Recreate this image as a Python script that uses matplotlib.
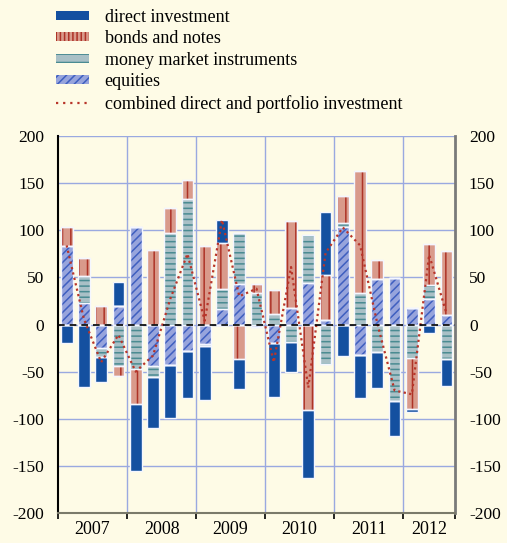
import numpy as np
from matplotlib import pyplot as plt
from matplotlib.lines import Line2D
from matplotlib.patches import Patch

# quarters 2007 Q1 .. 2012 Q3
years = ["2007", "2008", "2009", "2010", "2011", "2012"]
quarters_per_year = [4, 4, 4, 4, 4, 3]

# positive / negative parts of each component (EUR bn)
equities_pos = [83, 23, 0, 20, 103, 0, 0, 0, 0, 17, 43, 0,
                0, 18, 44, 5, 104, 0, 48, 49, 18, 27, 10]
equities_neg = [0, 0, -25, 0, 0, -44, -43, -28, -21, 0, 0, -3,
                -20, 0, 0, 0, 0, -32, 0, 0, 0, 0, 0]
money_pos = [0, 28, 0, 0, 0, 0, 97, 133, 0, 21, 54, 33,
             11, 0, 51, 0, 4, 33, 0, 0, 0, 15, 0]
money_neg = [0, 0, -9, -44, -47, -12, 0, 0, -2, 0, 0, 0,
             0, -19, 0, -42, 0, 0, -29, -81, -36, 0, -37]
bonds_pos = [20, 20, 20, 0, 0, 79, 27, 20, 83, 49, 0, 10,
             26, 92, 0, 48, 28, 130, 20, 0, 0, 43, 68]
bonds_neg = [0, 0, 0, -11, -37, 0, 0, 0, 0, 0, -37, 0,
             0, 0, -91, 0, 0, 0, 0, 0, -54, 0, 0]
direct_pos = [0, 0, 0, 25, 0, 0, 0, 0, 0, 24, 0, 0,
              0, 0, 0, 66, 0, 0, 0, 0, 0, 0, 0]
direct_neg = [-20, -66, -27, 0, -71, -54, -56, -50, -57, 0, -31, 0,
              -57, -31, -72, 0, -33, -46, -38, -37, -3, -9, -28]
combined = [84, 6, -40, -11, -50, -33, 27, 75, 4, 111, 30, 38,
            -40, 61, -67, 76, 103, 84, 1, -70, -74, 74, 12]

BG = "#fefbe6"
GRID = "#9aa9e0"

plt.rcParams["font.family"] = ["Liberation Serif", "DejaVu Serif"]
plt.rcParams["hatch.linewidth"] = 1.1

fig = plt.figure(figsize=(5.07, 5.43), dpi=100, facecolor=BG)
ax = fig.add_axes([0.1144, 0.0552, 0.7831, 0.6943], facecolor=BG)

x = np.arange(len(combined))
w = 0.68

# (name, pos, neg, face, hatch colour, hatch)
series = [
    ("equities", equities_pos, equities_neg, "#97a4dc", "#3f5fc0", "////"),
    ("money market instruments", money_pos, money_neg, "#a9c0c6", "#4a8b92", "---"),
    ("bonds and notes", bonds_pos, bonds_neg, "#d99a8b", "#ad3327", "||"),
    ("direct investment", direct_pos, direct_neg, "#1450a0", "#1450a0", None),
]

bottom_pos = np.zeros(len(x))
bottom_neg = np.zeros(len(x))
for name, pos, neg, face, hcol, hatch in series:
    pos = np.array(pos, dtype=float)
    neg = np.array(neg, dtype=float)
    for vals, bot in ((pos, bottom_pos), (neg, bottom_neg)):
        ax.bar(x, vals, w, bottom=bot, color=face, edgecolor=hcol,
               hatch=hatch, linewidth=0, zorder=3)
        ax.bar(x, vals, w, bottom=bot, color="none", edgecolor="#f4f6ff",
               linewidth=1.0, zorder=4)
    bottom_pos += pos
    bottom_neg += neg

ax.plot(x, combined, color="#b8352a", linestyle=(0, (1, 1.5)),
        linewidth=1.6, zorder=5)

ax.axhline(0, color="black", linestyle=(0, (4, 3)), linewidth=1.2, zorder=6)

ax.set_ylim(-200, 200)
ax.set_xlim(-0.5, len(x) - 0.5)
ax.set_yticks(np.arange(-200, 201, 50))
ax.set_yticklabels([str(v) for v in range(-200, 201, 50)])
ax.tick_params(axis="y", length=0, labelsize=12.5, pad=10,
               labelright=True, right=False)
for v in range(-150, 201, 50):
    ax.axhline(v, color=GRID, linewidth=1.0, zorder=1)

bounds = np.cumsum([0] + quarters_per_year) - 0.5
for b in bounds[1:-1]:
    ax.axvline(b, color=GRID, linewidth=1.0, zorder=1)
ax.set_xticks(bounds)
ax.set_xticklabels([])
ax.tick_params(axis="x", length=4, width=1.2, color="black", direction="out")
centers = (bounds[:-1] + bounds[1:]) / 2
ax.set_xticks(centers, minor=True)
ax.set_xticklabels(years, minor=True, fontsize=13)
ax.tick_params(axis="x", which="minor", length=0, pad=6)

ax.spines["top"].set_visible(False)
ax.spines["left"].set_color("black")
ax.spines["left"].set_linewidth(1.5)
ax.spines["right"].set_color("#7a7a7a")
ax.spines["right"].set_linewidth(2)
ax.spines["bottom"].set_color("#7a7a6a")
ax.spines["bottom"].set_linewidth(1.5)

handles = [
    Patch(facecolor="#1450a0", edgecolor="#1450a0", linewidth=0),
    Patch(facecolor="#d99a8b", edgecolor="#ad3327", hatch="||||", linewidth=0),
    Patch(facecolor="#a9c0c6", edgecolor="#4a8b92", hatch="--", linewidth=0),
    Patch(facecolor="#97a4dc", edgecolor="#3f5fc0", hatch="////", linewidth=0),
    Line2D([], [], color="#b8352a", linestyle=(0, (1, 2.2)), linewidth=1.6),
]
labels = ["direct investment", "bonds and notes", "money market instruments",
          "equities", "combined direct and portfolio investment"]
fig.legend(handles, labels, loc="upper left", bbox_to_anchor=(0.078, 1.014),
           frameon=False, fontsize=13, handlelength=1.85, handleheight=0.42,
           handletextpad=0.85, labelspacing=0.25)

fig.savefig("out.png", dpi=100, facecolor=BG)
